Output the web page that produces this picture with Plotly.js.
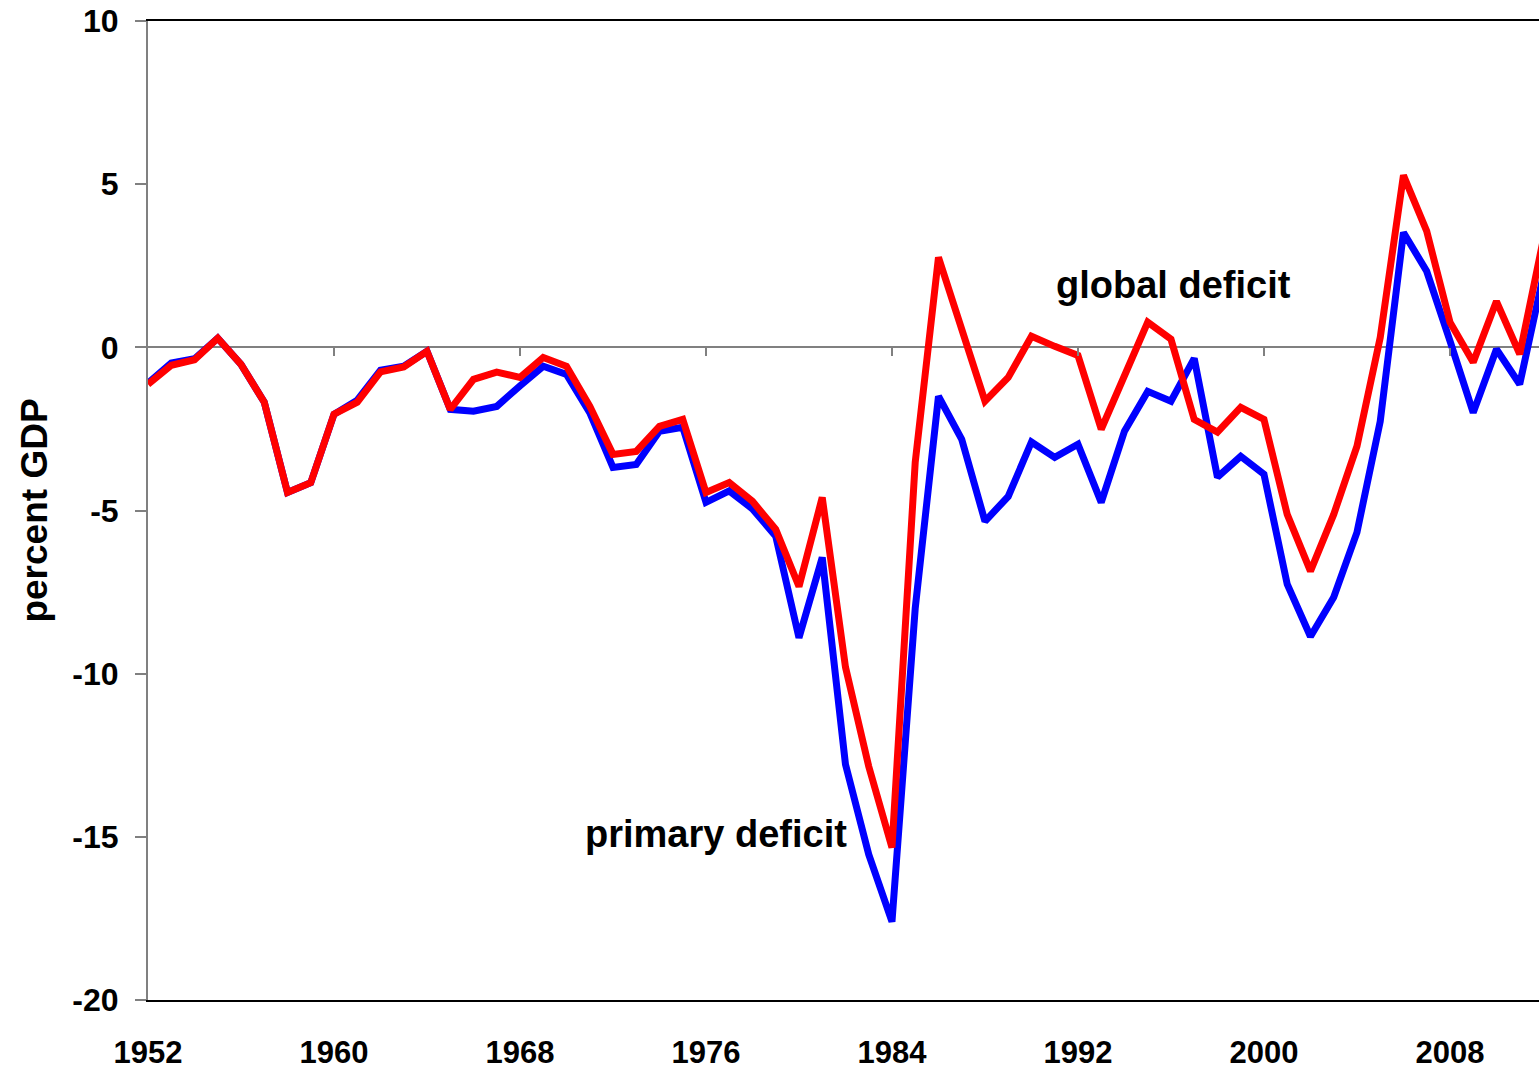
<!DOCTYPE html>
<html>
<head>
<meta charset="utf-8">
<script src="https://cdn.plot.ly/plotly-3.0.1.min.js"></script>
<style>
  html, body { margin: 0; padding: 0; background: #ffffff; }
  #chart { width: 1539px; height: 1072px; }
</style>
</head>
<body>
<div id="chart"></div>
<script>
const years = [1952,1953,1954,1955,1956,1957,1958,1959,1960,1961,1962,1963,1964,1965,1966,1967,1968,1969,1970,1971,
  1972,1973,1974,1975,1976,1977,1978,1979,1980,1981,1982,1983,1984,1985,1986,1987,1988,1989,1990,1991,
  1992,1993,1994,1995,1996,1997,1998,1999,2000,2001,2002,2003,2004,2005,2006,2007,2008,2009,2010,2011,2012];

const primaryDeficit = [-1.10,-0.48,-0.35,0.28,-0.52,-1.68,-4.45,-4.15,-2.05,-1.62,-0.70,-0.58,-0.12,-1.90,-1.96,-1.81,-1.18,-0.58,-0.83,-2.00,
  -3.68,-3.59,-2.57,-2.45,-4.75,-4.40,-4.95,-5.79,-8.90,-6.44,-12.78,-15.54,-17.60,-8.00,-1.50,-2.82,-5.33,-4.57,-2.90,-3.37,
  -2.97,-4.75,-2.57,-1.35,-1.65,-0.34,-3.98,-3.34,-3.89,-7.26,-8.86,-7.66,-5.67,-2.27,3.52,2.33,0.20,-2.00,-0.06,-1.13,2.15];

const globalDeficit = [-1.13,-0.55,-0.38,0.28,-0.52,-1.68,-4.45,-4.15,-2.05,-1.68,-0.75,-0.60,-0.12,-1.90,-0.98,-0.76,-0.92,-0.31,-0.58,-1.80,
  -3.28,-3.19,-2.42,-2.21,-4.45,-4.14,-4.72,-5.58,-7.33,-4.60,-9.80,-12.84,-15.33,-3.52,2.76,0.60,-1.65,-0.92,0.34,0.03,
  -0.25,-2.51,-0.89,0.77,0.25,-2.21,-2.60,-1.84,-2.21,-5.12,-6.86,-5.12,-3.03,0.30,5.27,3.56,0.77,-0.46,1.41,-0.21,3.25];

const xTickVals = [1952,1960,1968,1976,1984,1992,2000,2008];
const xTickText = ['1952','1960','1968','1976','1984','1992','2000','2008'];
const yTickVals = [10,5,0,-5,-10,-15,-20];
const yTickText = ['10','5','0','-5','-10','-15','-20'];

const labelGlobal = {text: 'global deficit', year: 1996.1, value: 1.9};
const labelPrimary = {text: 'primary deficit', year: 1976.45, value: -14.9};

const xRange = [1952, 2011.83];
const yRange = [-20, 10];

const FONT = '"Liberation Sans", Arial, sans-serif';

const traces = [
  {x: years, y: primaryDeficit, type: 'scatter', mode: 'lines', name: 'primary deficit',
   line: {color: '#0000FF', width: 7, shape: 'linear'}, xaxis: 'x', yaxis: 'y', hoverinfo: 'x+y'},
  {x: years, y: globalDeficit, type: 'scatter', mode: 'lines', name: 'global deficit',
   line: {color: '#FF0000', width: 7, shape: 'linear'}, xaxis: 'x2', yaxis: 'y', hoverinfo: 'x+y'}
];

const layout = {
  width: 1539, height: 1072,
  margin: {l: 148, r: 0, t: 21, b: 72, pad: 0},
  paper_bgcolor: '#ffffff', plot_bgcolor: '#ffffff',
  showlegend: false,
  font: {family: FONT, color: '#000000', size: 31},
  xaxis: {
    range: xRange, tickvals: xTickVals, ticktext: xTickText,
    showgrid: false, zeroline: false,
    showline: true, linecolor: '#000000', linewidth: 2, mirror: true,
    ticks: 'outside', ticklen: 24, tickcolor: 'rgba(0,0,0,0)',
    tickfont: {family: FONT, size: 31, weight: 700, color: '#000000'},
    fixedrange: true
  },
  xaxis2: {
    overlaying: 'x', anchor: 'free', position: (0 - yRange[0]) / (yRange[1] - yRange[0]),
    range: xRange, tickvals: xTickVals.slice(1),
    showgrid: false, zeroline: false, showline: false, showticklabels: false,
    ticks: 'outside', ticklen: 8, tickwidth: 2, tickcolor: '#808080',
    fixedrange: true
  },
  yaxis: {
    range: yRange, tickvals: yTickVals, ticktext: yTickText,
    showgrid: false,
    zeroline: true, zerolinecolor: '#808080', zerolinewidth: 2,
    showline: true, linecolor: '#808080', linewidth: 2,
    ticks: 'outside', ticklen: 11, tickwidth: 2, tickcolor: '#808080',
    ticklabelstandoff: 10,
    tickfont: {family: FONT, size: 32, weight: 700, color: '#000000'},
    title: {text: 'percent GDP', standoff: 13, font: {family: FONT, size: 37, weight: 700, color: '#000000'}},
    fixedrange: true
  },
  annotations: [
    {x: labelGlobal.year, y: labelGlobal.value, xref: 'x', yref: 'y', text: labelGlobal.text,
     showarrow: false, xanchor: 'center', yanchor: 'middle',
     font: {family: FONT, size: 38, weight: 700, color: '#000000'}},
    {x: labelPrimary.year, y: labelPrimary.value, xref: 'x', yref: 'y', text: labelPrimary.text,
     showarrow: false, xanchor: 'center', yanchor: 'middle',
     font: {family: FONT, size: 38, weight: 700, color: '#000000'}}
  ]
};

Plotly.newPlot('chart', traces, layout, {displayModeBar: false, staticPlot: true});
</script>
</body>
</html>
